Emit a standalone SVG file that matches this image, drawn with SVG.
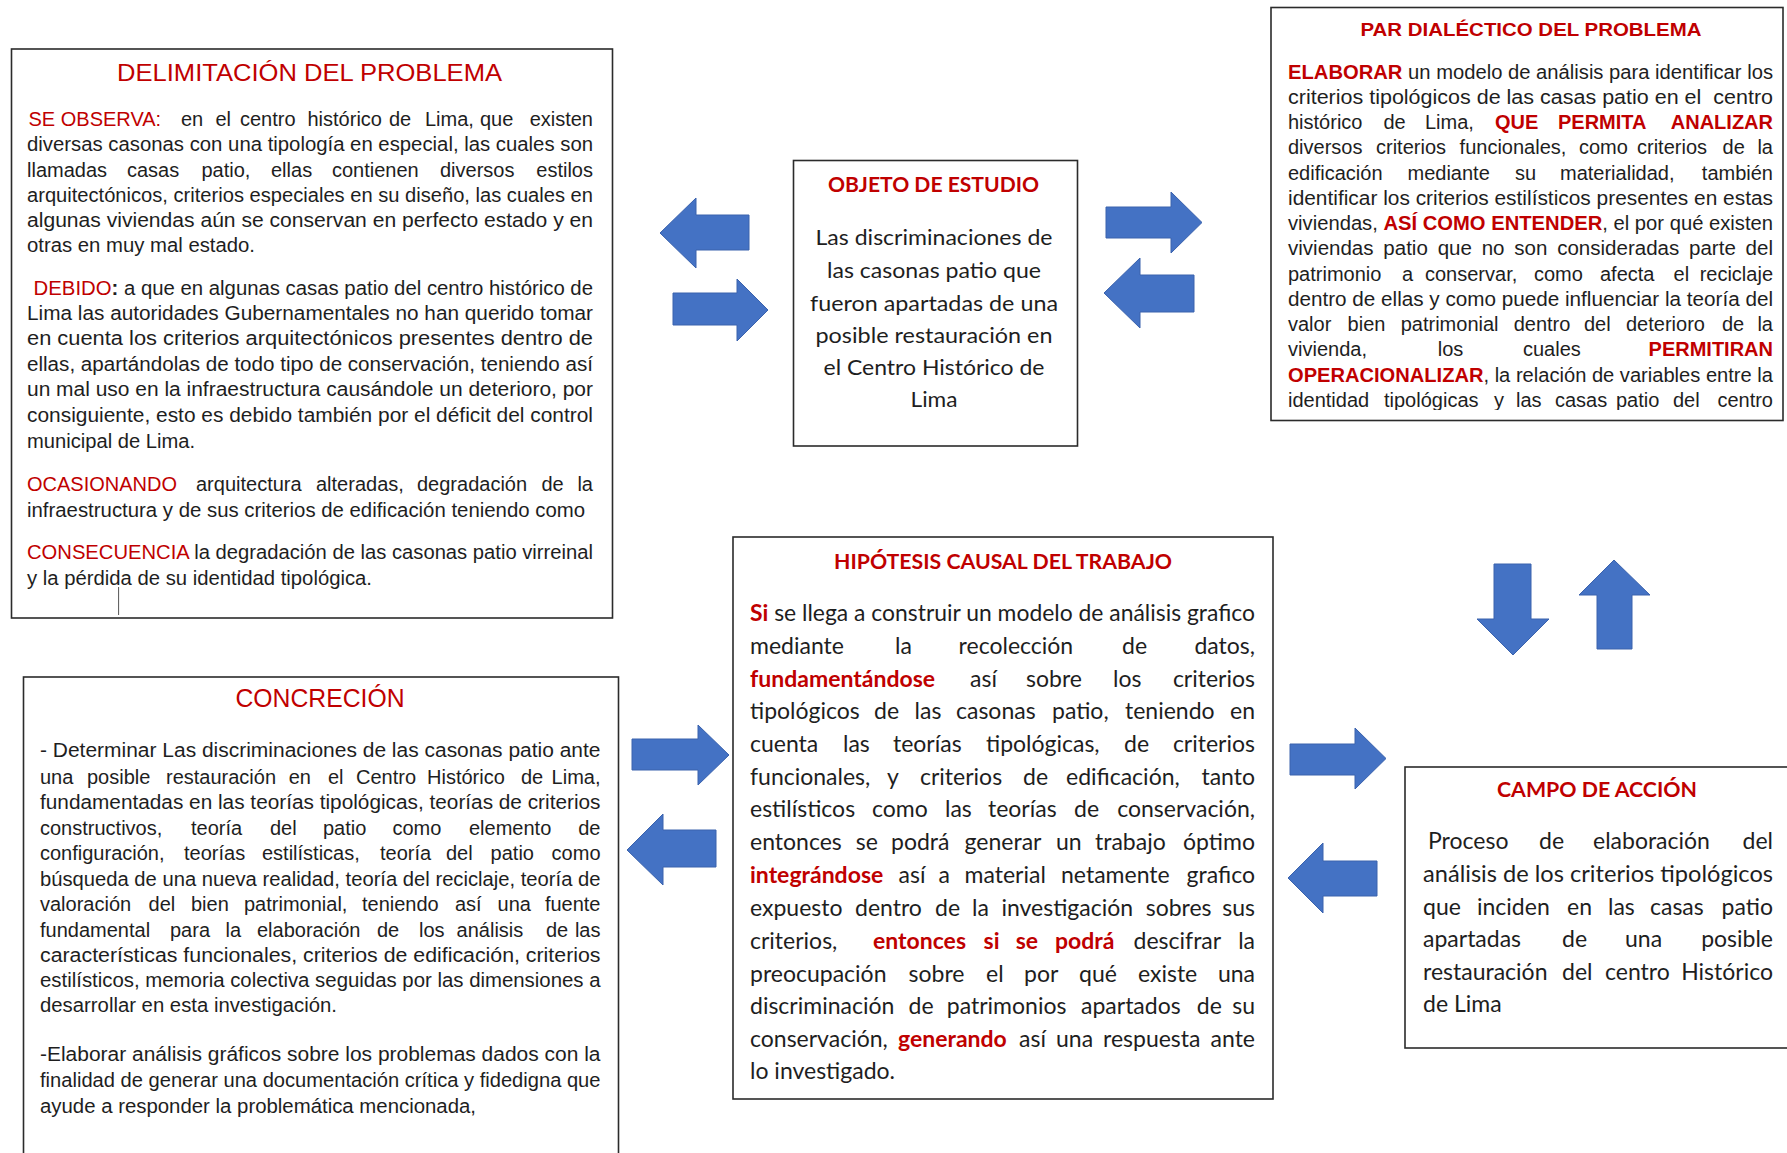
<svg xmlns="http://www.w3.org/2000/svg" width="1787" height="1153" viewBox="0 0 1787 1153">
<style>
.box{fill:#fff;stroke:#2b2b2b;stroke-width:1.6}
.arr{fill:#4472C4;stroke:#3a62ad;stroke-width:1}
.n{font-family:"Liberation Sans",Arial,sans-serif;font-size:20px;fill:#1e1e1e}
.c{font-family:Lato,"Open Sans",sans-serif;font-size:23px;fill:#1e1e1e}
.co{font-family:Lato,"Open Sans",sans-serif;font-size:22px;fill:#1e1e1e}
.r{fill:#C00000}
.rb{fill:#C00000;font-weight:bold}
.tn{font-family:"Liberation Sans",Arial,sans-serif;fill:#C00000}
.tc{font-family:Lato,"Open Sans",sans-serif;font-size:20px;font-weight:bold;fill:#C00000}
</style>
<defs>
<clipPath id="clipPar"><rect x="1271" y="7" width="512" height="403"/></clipPath>
</defs>
<rect x="0" y="0" width="1787" height="1153" fill="#fff"/>

<g id="connectors">
<polygon class="arr" points="660,233 696,198 696,215 749,215 749,250 696,250 696,268"/>
<polygon class="arr" points="673,293 737,293 737,279 768,310 737,341 737,325 673,325"/>
<polygon class="arr" points="1106,207 1171,207 1171,192 1202,222.5 1171,253 1171,238 1106,238"/>
<polygon class="arr" points="1104,293 1140,258 1140,275 1194,275 1194,312 1140,312 1140,328"/>
<polygon class="arr" points="1494,564 1531,564 1531,619 1549,619 1513,655 1477,619 1494,619"/>
<polygon class="arr" points="1614,560 1650,595 1632,595 1632,649 1597,649 1597,595 1579,595"/>
<polygon class="arr" points="632,739 698,739 698,725 729,755 698,785 698,770 632,770"/>
<polygon class="arr" points="627,850 663,814 663,830 716,830 716,867 663,867 663,885"/>
<polygon class="arr" points="1290,744 1355,744 1355,728 1386,758.5 1355,789 1355,775 1290,775"/>
<polygon class="arr" points="1288,878 1323,843 1323,861 1377,861 1377,896 1323,896 1323,913"/>
</g>

<g id="node-delimitacion">
<rect class="box" x="11.5" y="49" width="601" height="569"/>
<text class="tn" x="309.5" y="81" font-size="24" text-anchor="middle" textLength="385" lengthAdjust="spacingAndGlyphs">DELIMITACIÓN DEL PROBLEMA</text>
<text class="n" y="126"><tspan x="28.5" class="r">SE OBSERVA:</tspan><tspan x="181">en</tspan><tspan x="215.4">el</tspan><tspan x="240">centro</tspan><tspan x="307.5">histórico</tspan><tspan x="389">de</tspan><tspan x="425">Lima,</tspan><tspan x="480">que</tspan><tspan x="593" text-anchor="end">existen</tspan></text>
<text class="n" x="27" y="151" textLength="566" lengthAdjust="spacingAndGlyphs">diversas casonas con una tipología en especial, las cuales son</text>
<text class="n" y="176.5"><tspan x="27">llamadas</tspan><tspan x="127">casas</tspan><tspan x="201.5">patio,</tspan><tspan x="271">ellas</tspan><tspan x="332">contienen</tspan><tspan x="440">diversos</tspan><tspan x="593" text-anchor="end">estilos</tspan></text>
<text class="n" x="27" y="201.5" textLength="566" lengthAdjust="spacingAndGlyphs">arquitectónicos, criterios especiales en su diseño, las cuales en</text>
<text class="n" x="27" y="227" textLength="566" lengthAdjust="spacingAndGlyphs">algunas viviendas aún se conservan en perfecto estado y en</text>
<text class="n" x="27" y="252" textLength="228" lengthAdjust="spacingAndGlyphs">otras en muy mal estado.</text>
<text class="n" x="33.6" y="294.5" textLength="559.4" lengthAdjust="spacingAndGlyphs"><tspan class="r">DEBIDO</tspan><tspan font-weight="bold">:</tspan> a que en algunas casas patio del centro histórico de</text>
<text class="n" x="27" y="320" textLength="566" lengthAdjust="spacingAndGlyphs">Lima las autoridades Gubernamentales no han querido tomar</text>
<text class="n" x="27" y="345" textLength="566" lengthAdjust="spacingAndGlyphs">en cuenta los criterios arquitectónicos presentes dentro de</text>
<text class="n" x="27" y="371" textLength="566" lengthAdjust="spacingAndGlyphs">ellas, apartándolas de todo tipo de conservación, teniendo así</text>
<text class="n" x="27" y="396" textLength="566" lengthAdjust="spacingAndGlyphs">un mal uso en la infraestructura causándole un deterioro, por</text>
<text class="n" x="27" y="422" textLength="566" lengthAdjust="spacingAndGlyphs">consiguiente, esto es debido también por el déficit del control</text>
<text class="n" x="27" y="448" textLength="168" lengthAdjust="spacingAndGlyphs">municipal de Lima.</text>
<text class="n" y="491"><tspan x="27" class="r">OCASIONANDO</tspan><tspan x="196">arquitectura</tspan><tspan x="316">alteradas,</tspan><tspan x="417">degradación</tspan><tspan x="541.5">de</tspan><tspan x="593" text-anchor="end">la</tspan></text>
<text class="n" x="27" y="517" textLength="558" lengthAdjust="spacingAndGlyphs">infraestructura y de sus criterios de edificación teniendo como</text>
<text class="n" x="27" y="559" textLength="566" lengthAdjust="spacingAndGlyphs"><tspan class="r">CONSECUENCIA</tspan> la degradación de las casonas patio virreinal</text>
<text class="n" x="27" y="585" textLength="345" lengthAdjust="spacingAndGlyphs">y la pérdida de su identidad tipológica.</text>
<line x1="118.6" y1="587" x2="118.6" y2="615" stroke="#555" stroke-width="1"/>
</g>

<g id="node-objeto">
<rect class="box" x="793.5" y="160.5" width="284" height="285.5"/>
<text class="tc" x="933.5" y="192" text-anchor="middle" textLength="211" lengthAdjust="spacingAndGlyphs">OBJETO DE ESTUDIO</text>
<text class="co" x="934" y="245" text-anchor="middle" textLength="237" lengthAdjust="spacingAndGlyphs">Las discriminaciones de</text>
<text class="co" x="934" y="278" text-anchor="middle" textLength="214" lengthAdjust="spacingAndGlyphs">las casonas patio que</text>
<text class="co" x="934" y="311" text-anchor="middle" textLength="248" lengthAdjust="spacingAndGlyphs">fueron apartadas de una</text>
<text class="co" x="934" y="343" text-anchor="middle" textLength="237" lengthAdjust="spacingAndGlyphs">posible restauración en</text>
<text class="co" x="934" y="375" text-anchor="middle" textLength="221" lengthAdjust="spacingAndGlyphs">el Centro Histórico de</text>
<text class="co" x="934" y="407" text-anchor="middle" textLength="47" lengthAdjust="spacingAndGlyphs">Lima</text>
</g>

<g id="node-par">
<rect class="box" x="1271" y="7.5" width="512" height="413"/>
<text class="tn" x="1531" y="36" font-size="19" font-weight="bold" text-anchor="middle" textLength="341" lengthAdjust="spacingAndGlyphs">PAR DIALÉCTICO DEL PROBLEMA</text>
<g clip-path="url(#clipPar)">
<text class="n" x="1288" y="79" textLength="485" lengthAdjust="spacingAndGlyphs"><tspan class="rb">ELABORAR</tspan> un modelo de análisis para identificar los</text>
<text class="n" x="1288" y="104" textLength="485" lengthAdjust="spacingAndGlyphs">criterios tipológicos de las casas patio en el&#160; centro</text>
<text class="n" y="129"><tspan x="1288">histórico</tspan><tspan x="1383.5">de</tspan><tspan x="1425">Lima,</tspan><tspan x="1495" class="rb">QUE</tspan><tspan x="1558" class="rb">PERMITA</tspan><tspan x="1773" text-anchor="end" class="rb">ANALIZAR</tspan></text>
<text class="n" y="154"><tspan x="1288">diversos</tspan><tspan x="1376">criterios</tspan><tspan x="1459.6">funcionales,</tspan><tspan x="1579">como</tspan><tspan x="1637">criterios</tspan><tspan x="1722.6">de</tspan><tspan x="1773" text-anchor="end">la</tspan></text>
<text class="n" y="180"><tspan x="1288">edificación</tspan><tspan x="1407.5">mediante</tspan><tspan x="1515">su</tspan><tspan x="1560">materialidad,</tspan><tspan x="1773" text-anchor="end">también</tspan></text>
<text class="n" x="1288" y="205" textLength="485" lengthAdjust="spacingAndGlyphs">identificar los criterios estilísticos presentes en estas</text>
<text class="n" x="1288" y="230" textLength="485" lengthAdjust="spacingAndGlyphs">viviendas, <tspan class="rb">ASÍ COMO ENTENDER</tspan>, el por qué existen</text>
<text class="n" x="1288" y="255" textLength="485" lengthAdjust="spacingAndGlyphs" word-spacing="4">viviendas patio que no son consideradas parte del</text>
<text class="n" y="281"><tspan x="1288">patrimonio</tspan><tspan x="1402">a</tspan><tspan x="1425">conservar,</tspan><tspan x="1534">como</tspan><tspan x="1600">afecta</tspan><tspan x="1673.6">el</tspan><tspan x="1773" text-anchor="end">reciclaje</tspan></text>
<text class="n" x="1288" y="306" textLength="485" lengthAdjust="spacingAndGlyphs">dentro de ellas y como puede influenciar la teoría del</text>
<text class="n" y="331"><tspan x="1288">valor</tspan><tspan x="1347.6">bien</tspan><tspan x="1400.7">patrimonial</tspan><tspan x="1513.7">dentro</tspan><tspan x="1584">del</tspan><tspan x="1626">deterioro</tspan><tspan x="1722">de</tspan><tspan x="1773" text-anchor="end">la</tspan></text>
<text class="n" y="356"><tspan x="1288">vivienda,</tspan><tspan x="1437.7">los</tspan><tspan x="1523">cuales</tspan><tspan x="1773" text-anchor="end" class="rb">PERMITIRAN</tspan></text>
<text class="n" x="1288" y="382" textLength="485" lengthAdjust="spacingAndGlyphs"><tspan class="rb">OPERACIONALIZAR</tspan>, la relación de variables entre la</text>
<text class="n" y="407"><tspan x="1288">identidad</tspan><tspan x="1384">tipológicas</tspan><tspan x="1494">y</tspan><tspan x="1516">las</tspan><tspan x="1555">casas</tspan><tspan x="1616">patio</tspan><tspan x="1673">del</tspan><tspan x="1773" text-anchor="end">centro</tspan></text>
</g>
</g>

<g id="node-hipotesis">
<rect class="box" x="733" y="537" width="540" height="562"/>
<text class="tc" x="1003" y="569" text-anchor="middle" textLength="338" lengthAdjust="spacingAndGlyphs">HIPÓTESIS CAUSAL DEL TRABAJO</text>
<text class="c" x="750" y="621" textLength="505" lengthAdjust="spacingAndGlyphs"><tspan class="rb">Si</tspan> se llega a construir un modelo de análisis grafico</text>
<text class="c" y="654"><tspan x="750">mediante</tspan><tspan x="895">la</tspan><tspan x="958.6">recolección</tspan><tspan x="1122">de</tspan><tspan x="1255" text-anchor="end">datos,</tspan></text>
<text class="c" y="686.5"><tspan x="750" class="rb">fundamentándose</tspan><tspan x="970">así</tspan><tspan x="1026">sobre</tspan><tspan x="1113">los</tspan><tspan x="1255" text-anchor="end">criterios</tspan></text>
<text class="c" y="719"><tspan x="750">tipológicos</tspan><tspan x="874">de</tspan><tspan x="914.6">las</tspan><tspan x="956">casonas</tspan><tspan x="1052">patio,</tspan><tspan x="1125">teniendo</tspan><tspan x="1255" text-anchor="end">en</tspan></text>
<text class="c" y="751.5"><tspan x="750">cuenta</tspan><tspan x="843">las</tspan><tspan x="893">teorías</tspan><tspan x="986">tipológicas,</tspan><tspan x="1124">de</tspan><tspan x="1255" text-anchor="end">criterios</tspan></text>
<text class="c" y="784.5"><tspan x="750">funcionales,</tspan><tspan x="887">y</tspan><tspan x="920">criterios</tspan><tspan x="1023">de</tspan><tspan x="1066">edificación,</tspan><tspan x="1255" text-anchor="end">tanto</tspan></text>
<text class="c" y="817"><tspan x="750">estilísticos</tspan><tspan x="872">como</tspan><tspan x="945">las</tspan><tspan x="988">teorías</tspan><tspan x="1074">de</tspan><tspan x="1255" text-anchor="end">conservación,</tspan></text>
<text class="c" y="850"><tspan x="750">entonces</tspan><tspan x="855.7">se</tspan><tspan x="891">podrá</tspan><tspan x="964.6">generar</tspan><tspan x="1056">un</tspan><tspan x="1095">trabajo</tspan><tspan x="1255" text-anchor="end">óptimo</tspan></text>
<text class="c" y="883"><tspan x="750" class="rb">integrándose</tspan><tspan x="898.6">así</tspan><tspan x="938.6">a</tspan><tspan x="964.6">material</tspan><tspan x="1061">netamente</tspan><tspan x="1255" text-anchor="end">grafico</tspan></text>
<text class="c" y="916"><tspan x="750">expuesto</tspan><tspan x="855">dentro</tspan><tspan x="935">de</tspan><tspan x="972">la</tspan><tspan x="1001.4">investigación</tspan><tspan x="1145.7">sobres</tspan><tspan x="1255" text-anchor="end">sus</tspan></text>
<text class="c" y="948.5"><tspan x="750">criterios,</tspan><tspan x="873" class="rb">entonces</tspan><tspan x="983.6" class="rb">si</tspan><tspan x="1015.7" class="rb">se</tspan><tspan x="1055" class="rb">podrá</tspan><tspan x="1133.6">descifrar</tspan><tspan x="1255" text-anchor="end">la</tspan></text>
<text class="c" y="981.5"><tspan x="750">preocupación</tspan><tspan x="908.6">sobre</tspan><tspan x="986">el</tspan><tspan x="1024">por</tspan><tspan x="1079">qué</tspan><tspan x="1138">existe</tspan><tspan x="1255" text-anchor="end">una</tspan></text>
<text class="c" y="1013.5"><tspan x="750">discriminación</tspan><tspan x="908.6">de</tspan><tspan x="946.8">patrimonios</tspan><tspan x="1081">apartados</tspan><tspan x="1196.8">de</tspan><tspan x="1255" text-anchor="end">su</tspan></text>
<text class="c" y="1046.5"><tspan x="750">conservación,</tspan><tspan x="898" class="rb">generando</tspan><tspan x="1019">así</tspan><tspan x="1056">una</tspan><tspan x="1103">respuesta</tspan><tspan x="1255" text-anchor="end">ante</tspan></text>
<text class="c" x="750" y="1078.5">lo investigado.</text>
</g>

<g id="node-concrecion">
<rect class="box" x="23.5" y="677" width="595" height="500"/>
<text class="tn" x="320" y="707" font-size="26" text-anchor="middle" textLength="169" lengthAdjust="spacingAndGlyphs">CONCRECIÓN</text>
<text class="n" x="40" y="757" textLength="560.5" lengthAdjust="spacingAndGlyphs">- Determinar Las discriminaciones de las casonas patio ante</text>
<text class="n" y="783.5"><tspan x="40">una</tspan><tspan x="87">posible</tspan><tspan x="166">restauración</tspan><tspan x="288.7">en</tspan><tspan x="328">el</tspan><tspan x="356">Centro</tspan><tspan x="427">Histórico</tspan><tspan x="521">de</tspan><tspan x="600.5" text-anchor="end">Lima,</tspan></text>
<text class="n" x="40" y="809" textLength="560.5" lengthAdjust="spacingAndGlyphs">fundamentadas en las teorías tipológicas, teorías de criterios</text>
<text class="n" y="834.5"><tspan x="40">constructivos,</tspan><tspan x="191">teoría</tspan><tspan x="270">del</tspan><tspan x="323">patio</tspan><tspan x="392.5">como</tspan><tspan x="469">elemento</tspan><tspan x="600.5" text-anchor="end">de</tspan></text>
<text class="n" y="860"><tspan x="40">configuración,</tspan><tspan x="184">teorías</tspan><tspan x="262">estilísticas,</tspan><tspan x="380">teoría</tspan><tspan x="446">del</tspan><tspan x="490.6">patio</tspan><tspan x="600.5" text-anchor="end">como</tspan></text>
<text class="n" x="40" y="885.5" textLength="560.5" lengthAdjust="spacingAndGlyphs">búsqueda de una nueva realidad, teoría del reciclaje, teoría de</text>
<text class="n" y="911"><tspan x="40">valoración</tspan><tspan x="148.6">del</tspan><tspan x="191">bien</tspan><tspan x="244">patrimonial,</tspan><tspan x="362">teniendo</tspan><tspan x="455">así</tspan><tspan x="497.6">una</tspan><tspan x="600.5" text-anchor="end">fuente</tspan></text>
<text class="n" y="936.5"><tspan x="40">fundamental</tspan><tspan x="170">para</tspan><tspan x="225.5">la</tspan><tspan x="257">elaboración</tspan><tspan x="377">de</tspan><tspan x="419">los</tspan><tspan x="456.6">análisis</tspan><tspan x="546">de</tspan><tspan x="600.5" text-anchor="end">las</tspan></text>
<text class="n" x="40" y="962" textLength="560.5" lengthAdjust="spacingAndGlyphs">características funcionales, criterios de edificación, criterios</text>
<text class="n" x="40" y="987" textLength="560.5" lengthAdjust="spacingAndGlyphs">estilísticos, memoria colectiva seguidas por las dimensiones a</text>
<text class="n" x="40" y="1012" textLength="297" lengthAdjust="spacingAndGlyphs">desarrollar en esta investigación.</text>
<text class="n" x="40" y="1061" textLength="560.5" lengthAdjust="spacingAndGlyphs">-Elaborar análisis gráficos sobre los problemas dados con la</text>
<text class="n" x="40" y="1087" textLength="560.5" lengthAdjust="spacingAndGlyphs">finalidad de generar una documentación crítica y fidedigna que</text>
<text class="n" x="40" y="1113" textLength="436" lengthAdjust="spacingAndGlyphs">ayude a responder la problemática mencionada,</text>
</g>

<g id="node-campo">
<rect class="box" x="1405" y="767" width="400" height="281"/>
<text class="tc" x="1597" y="797" text-anchor="middle" textLength="200" lengthAdjust="spacingAndGlyphs">CAMPO DE ACCIÓN</text>
<text class="c" y="849"><tspan x="1428">Proceso</tspan><tspan x="1539">de</tspan><tspan x="1593">elaboración</tspan><tspan x="1773" text-anchor="end">del</tspan></text>
<text class="c" x="1423" y="882" textLength="350" lengthAdjust="spacingAndGlyphs">análisis de los criterios tipológicos</text>
<text class="c" y="915"><tspan x="1423">que</tspan><tspan x="1477">inciden</tspan><tspan x="1567">en</tspan><tspan x="1608">las</tspan><tspan x="1650">casas</tspan><tspan x="1773" text-anchor="end">patio</tspan></text>
<text class="c" y="947"><tspan x="1423">apartadas</tspan><tspan x="1562">de</tspan><tspan x="1625">una</tspan><tspan x="1773" text-anchor="end">posible</tspan></text>
<text class="c" y="980"><tspan x="1423">restauración</tspan><tspan x="1562">del</tspan><tspan x="1605">centro</tspan><tspan x="1773" text-anchor="end">Histórico</tspan></text>
<text class="c" x="1423" y="1012">de Lima</text>
</g>
</svg>
